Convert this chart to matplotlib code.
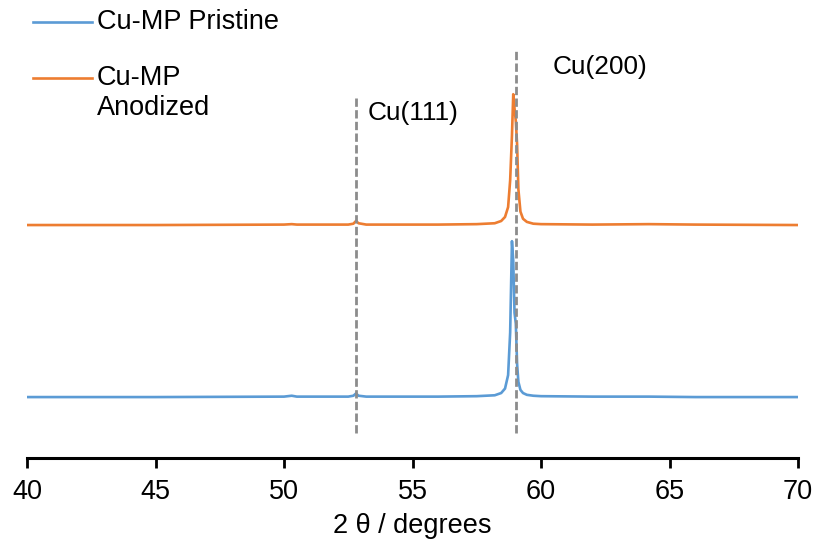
import matplotlib.pyplot as plt
from matplotlib.lines import Line2D

plt.rcParams['font.family'] = ['Liberation Sans', 'DejaVu Sans']

# 2theta positions (degrees)
two_theta = [40.0, 45.0, 50.0, 50.3, 50.5, 52.5, 52.7, 52.8, 52.9, 53.2, 56.0, 57.5,
             58.2, 58.45, 58.6, 58.72, 58.8, 58.87, 58.92, 58.97, 59.02, 59.07,
             59.12, 59.2, 59.3, 59.45, 59.7, 60.0, 62.0, 64.2, 66.0, 70.0]

# intensities (arbitrary units, offset stacked)
pristine = [13.6, 13.6, 13.7, 13.9, 13.7, 13.7, 13.9, 14.4, 13.9, 13.7, 13.7, 13.8,
            14.0, 14.5, 15.5, 18.5, 28.0, 48.4, 44.0, 32.4, 30.0, 21.0,
            17.0, 15.2, 14.5, 14.1, 13.9, 13.8, 13.7, 13.7, 13.6, 13.6]
anodized = [52.0, 52.0, 52.1, 52.2, 52.1, 52.1, 52.3, 52.9, 52.4, 52.1, 52.1, 52.2,
            52.4, 52.9, 53.8, 56.0, 62.0, 72.0, 81.2, 78.0, 75.2, 70.0,
            60.0, 55.0, 53.4, 52.7, 52.3, 52.2, 52.1, 52.2, 52.1, 52.0]

ref_lines = [52.8, 59.03]
ref_tops = [81.0, 91.0]
ref_labels = ['Cu(111)', 'Cu(200)']

blue = '#5B9BD5'
orange = '#ED7D31'
gray = '#8C8C8C'
fs = 19.5

fig = plt.figure(figsize=(8.17, 5.43), dpi=100)
ax = fig.add_axes([27 / 817, 85 / 543, 771 / 817, 448 / 543])

ax.plot(two_theta, pristine, color=blue, lw=1.9, solid_joinstyle='round')
ax.plot(two_theta, anodized, color=orange, lw=1.9, solid_joinstyle='round')

for x, top in zip(ref_lines, ref_tops):
    ax.plot([x, x], [5.5, top], color=gray, lw=2.0, ls=(0, (3.0, 1.2)))

ax.text(53.25, 77.0, ref_labels[0], fontsize=fs * 0.97, va='center', ha='left')
ax.text(60.45, 87.2, ref_labels[1], fontsize=fs * 0.97, va='center', ha='left')

ax.set_xlim(40, 70)
ax.set_ylim(0, 100)
ax.set_xticks(range(40, 71, 5))
ax.set_yticks([])
for s in ['top', 'right', 'left']:
    ax.spines[s].set_visible(False)
ax.spines['bottom'].set_linewidth(2.2)
ax.tick_params(axis='x', length=7, width=2, labelsize=fs, pad=8)
ax.set_xlabel('2 θ / degrees', fontsize=fs, labelpad=6)

# legend drawn by hand
fig.add_artist(Line2D([33 / 817, 92 / 817], [1 - 22 / 543, 1 - 22 / 543], color=blue, lw=1.9))
fig.text(97 / 817, 1 - 22 / 543, 'Cu-MP Pristine', fontsize=fs, va='center')
fig.add_artist(Line2D([33 / 817, 92 / 817], [1 - 78 / 543, 1 - 78 / 543], color=orange, lw=1.9))
fig.text(97 / 817, 1 - 78 / 543, 'Cu-MP', fontsize=fs, va='center')
fig.text(97 / 817, 1 - 108 / 543, 'Anodized', fontsize=fs, va='center')

fig.savefig('out.png', dpi=100)
